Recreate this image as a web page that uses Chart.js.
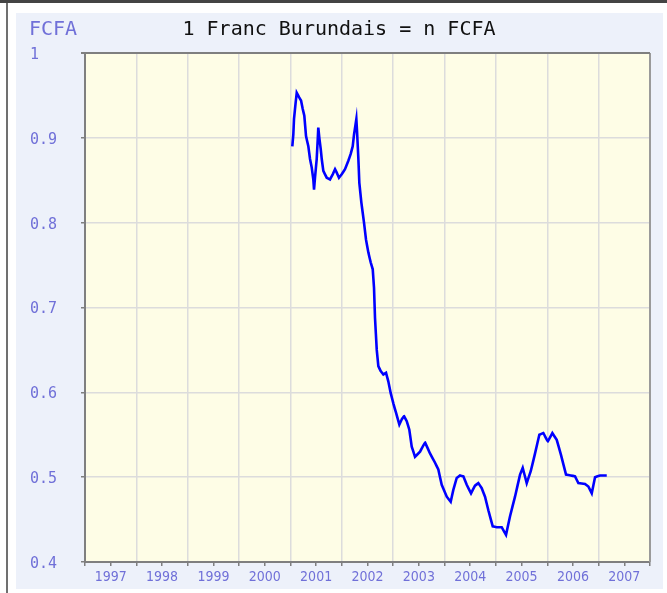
<!DOCTYPE html>
<html>
<head>
<meta charset="utf-8">
<script src="https://cdn.jsdelivr.net/npm/chart.js@4.4.1/dist/chart.umd.min.js"></script>
<style>
  html, body { margin: 0; padding: 0; background: #fff; }
  #wrap { width: 667px; height: 593px; position: relative; }
</style>
</head>
<body>
<div id="wrap"><canvas id="chart" width="667" height="593"></canvas></div>
<script>
// valeurs (annee decimale -> cours)
const years = [
  2001.036, 2001.056, 2001.069, 2001.102, 2001.122, 2001.167, 2001.206, 2001.239, 2001.270, 2001.303,
  2001.348, 2001.381, 2001.414, 2001.445, 2001.459, 2001.478, 2001.511, 2001.531, 2001.542, 2001.562,
  2001.589, 2001.609, 2001.640, 2001.706, 2001.770, 2001.823, 2001.868, 2001.901, 2001.945, 2001.998,
  2002.062, 2002.127, 2002.173, 2002.212, 2002.238, 2002.263, 2002.283, 2002.296, 2002.321, 2002.341,
  2002.380, 2002.432, 2002.471, 2002.516, 2002.563, 2002.602, 2002.627, 2002.646, 2002.680, 2002.711,
  2002.757, 2002.808, 2002.861, 2002.905, 2002.952, 2003.003, 2003.055, 2003.120, 2003.166, 2003.211,
  2003.264, 2003.314, 2003.361, 2003.425, 2003.523, 2003.620, 2003.717, 2003.815, 2003.879, 2003.945,
  2004.043, 2004.120, 2004.171, 2004.237, 2004.301, 2004.366, 2004.432, 2004.516, 2004.593, 2004.658,
  2004.724, 2004.788, 2004.853, 2004.938, 2005.016, 2005.113, 2005.197, 2005.275, 2005.372, 2005.470,
  2005.522, 2005.600, 2005.678, 2005.762, 2005.846, 2005.924, 2006.009, 2006.099, 2006.184, 2006.268,
  2006.365, 2006.457, 2006.541, 2006.605, 2006.735, 2006.800, 2006.866, 2006.930, 2007.027, 2007.158
];
const rates = [
  0.890, 0.904, 0.922, 0.942, 0.953, 0.948, 0.944, 0.934, 0.926, 0.902,
  0.890, 0.875, 0.865, 0.851, 0.839, 0.853, 0.875, 0.898, 0.912, 0.900,
  0.887, 0.875, 0.861, 0.853, 0.851, 0.857, 0.863, 0.859, 0.853, 0.857,
  0.863, 0.873, 0.881, 0.890, 0.904, 0.914, 0.922, 0.908, 0.877, 0.847,
  0.824, 0.800, 0.780, 0.765, 0.753, 0.745, 0.723, 0.688, 0.650, 0.631,
  0.625, 0.621, 0.623, 0.613, 0.599, 0.587, 0.576, 0.562, 0.568, 0.572,
  0.566, 0.556, 0.536, 0.524, 0.530, 0.541, 0.528, 0.517, 0.509, 0.491,
  0.477, 0.471, 0.485, 0.499, 0.502, 0.501, 0.491, 0.481, 0.490, 0.493,
  0.487, 0.477, 0.461, 0.442, 0.441, 0.441, 0.432, 0.454, 0.477, 0.503,
  0.511, 0.493, 0.507, 0.528, 0.550, 0.552, 0.542, 0.552, 0.544, 0.526,
  0.503, 0.502, 0.501, 0.493, 0.492, 0.489, 0.481, 0.500, 0.502, 0.502
];
const xMin = 1997, xMax = 2008;
const yMin = 0.4, yMax = 1.0;
const titleText = '1 Franc Burundais = n FCFA';
const unitText = 'FCFA';

const labelColor = '#7070d8';
const gridColor = '#dcdcdc';
const axisColor = '#7f7f7f';

// cadre, fond bleu clair et fond de la zone de tracé
const backdrop = {
  id: 'backdrop',
  beforeDraw(chart) {
    const { ctx, chartArea: a } = chart;
    ctx.save();
    ctx.fillStyle = '#ffffff';
    ctx.fillRect(0, 0, chart.width, chart.height);
    ctx.fillStyle = '#444444';
    ctx.fillRect(0, 0, chart.width, 3);
    ctx.fillStyle = '#707070';
    ctx.fillRect(6, 3, 2, chart.height - 3);
    ctx.fillStyle = '#edf1fa';
    ctx.fillRect(16, 13, 647, 576);
    ctx.fillStyle = '#fefde6';
    ctx.fillRect(a.left, a.top, a.right - a.left, a.bottom - a.top);
    ctx.restore();
  },
  beforeDatasetsDraw(chart) {
    const { ctx, chartArea: a } = chart;
    ctx.save();
    ctx.strokeStyle = '#9a9a9a';
    ctx.lineWidth = 2;
    ctx.beginPath();
    ctx.moveTo(a.right, a.top);
    ctx.lineTo(a.right, a.bottom);
    ctx.stroke();
    ctx.strokeStyle = axisColor;
    ctx.beginPath();
    ctx.moveTo(a.left - 4, a.top);
    ctx.lineTo(a.right, a.top);
    ctx.stroke();
    ctx.restore();
  },
  afterDraw(chart) {
    const { ctx } = chart;
    ctx.save();
    ctx.font = '20px "DejaVu Sans Mono", monospace';
    ctx.textBaseline = 'middle';
    ctx.fillStyle = labelColor;
    ctx.textAlign = 'left';
    ctx.fillText(unitText, 29, 30);
    ctx.fillStyle = '#111111';
    ctx.textAlign = 'center';
    ctx.fillText(titleText, 339, 30);
    ctx.restore();
  }
};

new Chart(document.getElementById('chart'), {
  type: 'line',
  data: {
    datasets: [{
      data: years.map((x, i) => ({ x: x, y: rates[i] })),
      borderColor: '#0000ff',
      borderWidth: 2.6,
      pointRadius: 0,
      tension: 0.001, // evite le "fast path" qui cree des artefacts verticaux
      fill: false
    }]
  },
  options: {
    responsive: false,
    animation: false,
    layout: { padding: { left: 30, top: 53, right: 17, bottom: 0 } },
    plugins: { legend: { display: false }, tooltip: { enabled: false } },
    scales: {
      x: {
        type: 'linear',
        min: xMin,
        max: xMax,
        afterFit: s => { s.height = 31; },
        border: { display: true, color: axisColor, width: 2 },
        grid: {
          color: c => (c.tick && Number.isInteger(c.tick.value)) ? gridColor : 'rgba(0,0,0,0)',
          lineWidth: 1.5,
          tickColor: axisColor,
          tickLength: 4
        },
        ticks: {
          stepSize: 0.5,
          autoSkip: false,
          maxRotation: 0,
          padding: 3,
          color: labelColor,
          font: { family: '"DejaVu Sans Condensed", "DejaVu Sans", sans-serif', size: 14 },
          callback: v => Number.isInteger(v) ? '' : String(Math.floor(v))
        }
      },
      y: {
        min: yMin,
        max: yMax,
        afterFit: s => { s.width = 55; },
        border: { display: true, color: axisColor, width: 2 },
        grid: {
          color: gridColor,
          lineWidth: 1.5,
          tickColor: axisColor,
          tickLength: 4
        },
        ticks: {
          stepSize: 0.1,
          crossAlign: 'far',
          labelOffset: 2,
          color: labelColor,
          font: { family: '"DejaVu Sans Mono", monospace', size: 15 },
          callback: v => Math.abs(v - 1) < 1e-9 ? '1' : v.toFixed(1)
        }
      }
    }
  },
  plugins: [backdrop]
});
</script>
</body>
</html>
